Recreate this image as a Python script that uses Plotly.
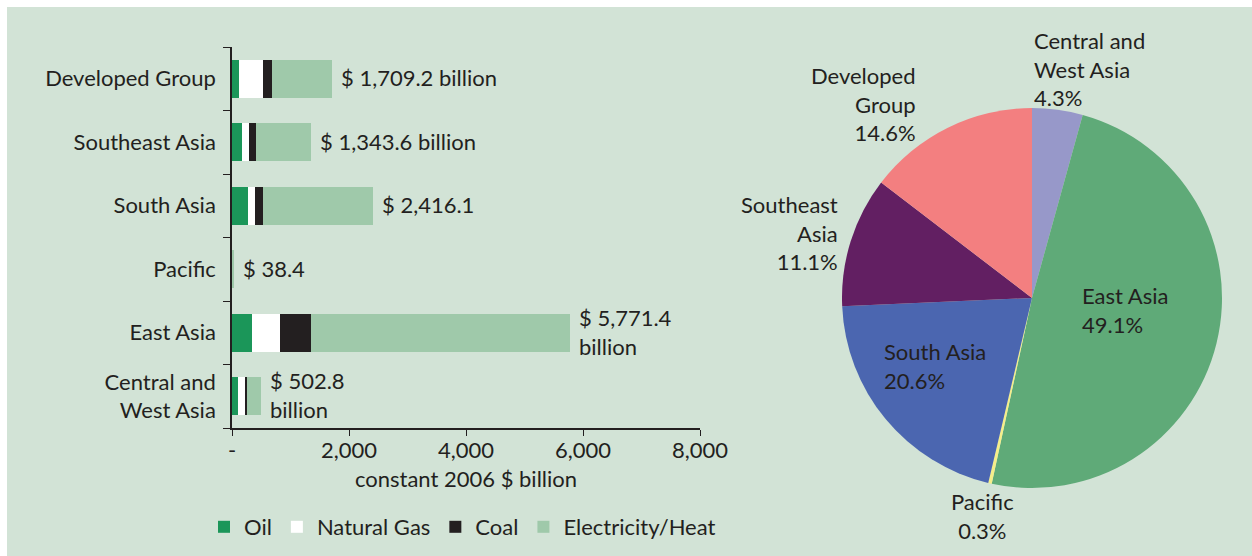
import plotly.graph_objects as go

# ---------------- data ----------------
regions = ["Developed Group", "Southeast Asia", "South Asia", "Pacific", "East Asia", "Central and West Asia"]
region_ticks = ["Developed Group", "Southeast Asia", "South Asia", "Pacific", "East Asia", "Central and<br>West Asia"]
oil = [120, 165, 280, 3, 347, 97]
natural_gas = [415, 125, 113, 0, 479, 142]
coal = [150, 125, 142, 0, 524, 17]
electricity_heat = [1024, 929, 1881, 35.4, 4421, 247]
totals = [1709.2, 1343.6, 2416.1, 38.4, 5771.4, 502.8]
total_labels = ["$ 1,709.2 billion", "$ 1,343.6 billion", "$ 2,416.1", "$ 38.4",
                "$ 5,771.4<br>billion", "$ 502.8<br>billion"]

x_tickvals = [0, 2000, 4000, 6000, 8000]
x_ticktext = ["-", "2,000", "4,000", "6,000", "8,000"]

pie_regions = ["Central and West Asia", "East Asia", "Pacific", "South Asia", "Southeast Asia", "Developed Group"]
pie_label_text = ["Central and<br>West Asia", "East Asia", "Pacific", "South Asia", "Southeast<br>Asia", "Developed<br>Group"]
pie_share = [4.3, 49.1, 0.3, 20.6, 11.1, 14.6]

# ---------------- style ----------------
W, H = 1252, 556
BG = "#d2e3d6"
TXT = "#231f20"
FONT = "Lato"
FS = 22

def px(x):
    return x / W

def py(y):
    return 1 - y / H

fig = go.Figure()

series = [("Oil", oil, "#1b9659"), ("Natural Gas", natural_gas, "#ffffff"),
          ("Coal", coal, "#231f20"), ("Electricity/Heat", electricity_heat, "#9fc9aa")]
for name, vals, col in series:
    fig.add_trace(go.Bar(
        y=regions, x=vals, name=name, orientation="h",
        marker=dict(color=col, line=dict(width=0)),
        xaxis="x", yaxis="y", hoverinfo="x+name",
    ))

fig.add_trace(go.Pie(
    labels=pie_regions, values=pie_share, sort=False, direction="clockwise", rotation=0,
    marker=dict(colors=["#9798c9", "#5faa78", "#f5ee8a", "#4b66b0", "#621f62", "#f37f80"],
                line=dict(width=0)),
    textinfo="none", showlegend=False,
    domain=dict(x=[px(842), px(1222)], y=[py(488), py(108)]),
))

annotations = []
for t, r, lab in zip(totals, regions, total_labels):
    annotations.append(dict(x=t, y=r, xref="x", yref="y", text=lab, showarrow=False,
                            xanchor="left", align="left", xshift=7, yshift=1,
                            font=dict(family=FONT, size=FS, color=TXT)))

# pie labels: (x, y, xanchor, align) in pixels
pie_pos = [(1032, 69, "left", "left"), (1080, 310, "left", "left"), (982, 516, "center", "center"),
           (882, 366, "left", "left"), (840, 233, "right", "right"), (918, 104, "right", "right")]
for lab, sh, (x, y, xa, al) in zip(pie_label_text, pie_share, pie_pos):
    annotations.append(dict(x=px(x), y=py(y), xref="paper", yref="paper",
                            text=f"{lab}<br>{sh}%", showarrow=False, xanchor=xa, yanchor="middle",
                            align=al, font=dict(family=FONT, size=FS, color=TXT)))

shapes = [
    dict(type="rect", xref="paper", yref="paper", x0=0, x1=1, y0=py(7), y1=1,
         fillcolor="white", line=dict(width=0), layer="below"),
    dict(type="rect", xref="paper", yref="paper", x0=0, x1=px(7), y0=0, y1=1,
         fillcolor="white", line=dict(width=0), layer="below"),
]

fig.update_layout(
    width=W, height=H,
    margin=dict(l=0, r=0, t=0, b=0),
    paper_bgcolor=BG, plot_bgcolor=BG,
    barmode="stack", bargap=0.4,
    font=dict(family=FONT, size=FS, color=TXT),
    xaxis=dict(domain=[px(232), px(700)], range=[0, 8000], tickvals=x_tickvals, ticktext=x_ticktext,
               automargin=False,
               showgrid=False, zeroline=False, showline=True, linecolor=TXT, linewidth=1.5,
               ticks="outside", ticklen=6, tickcolor=TXT, ticklabelstandoff=-4,
               anchor="y",
               title=dict(text="constant 2006 $ billion", standoff=9,
                          font=dict(family=FONT, size=FS, color=TXT)),
               tickfont=dict(family=FONT, size=FS, color=TXT)),
    yaxis=dict(domain=[py(428), py(47)], categoryorder="array", categoryarray=regions,
               automargin=False,
               autorange="reversed", tickvals=regions, ticktext=region_ticks, tickson="boundaries",
               showgrid=False, zeroline=False, showline=True, linecolor=TXT, linewidth=1.5,
               ticks="outside", ticklen=7, tickcolor=TXT, ticklabelstandoff=10, anchor="x",
               tickfont=dict(family=FONT, size=FS, color=TXT)),
    legend=dict(orientation="h", x=px(204), y=py(527), xanchor="left", yanchor="middle",
                bgcolor="rgba(0,0,0,0)", font=dict(family=FONT, size=FS, color=TXT),
                itemwidth=30, traceorder="normal"),
    annotations=annotations,
    shapes=shapes,
)

fig.write_html("out.html", config={"displayModeBar": False},
               post_script="document.body.style.margin='0';document.body.style.overflow='hidden';"
                           "document.documentElement.style.overflow='hidden';")
